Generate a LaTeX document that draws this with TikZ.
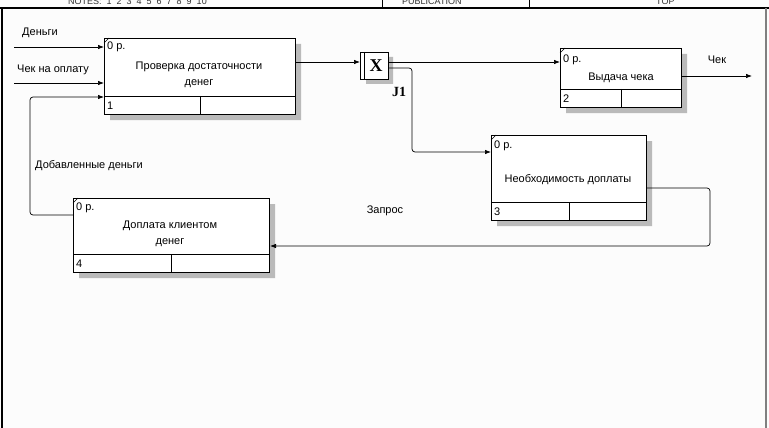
\documentclass[tikz,border=0pt]{standalone}
\usepackage{fontspec}
\setmainfont{Liberation Sans}
\newfontfamily\jfont{Liberation Serif}
\usetikzlibrary{arrows.meta,calc,patterns}
\tikzset{flow/.style={-{Latex[length=6pt,width=4.5pt]},line width=.7pt,rounded corners=3pt},
         act/.style={draw,fill=white,line width=1pt,anchor=north west,inner sep=0pt},
         shade/.style={fill=black!27},
         lbl/.style={font=\fontsize{11}{16}\selectfont,inner sep=0pt},
         hdr/.style={font=\fontsize{9}{10}\selectfont,inner sep=0pt,anchor=base west,black!80}}
\newcommand{\actshadow}[1]{%
  \fill[shade] ($(#1.north east)+(0,6)$) -- ++(5,0) |- ($(#1.south west)+(6,5)$)
    -- ++(0,-5) -| cycle;}
\newcommand{\actcells}[2]{%
  \draw[line width=.7pt] ($(#1.south west)+(0,-19)$) -- ($(#1.south east)+(0,-19)$);
  \draw[line width=.7pt] ($(#1.south)+(0,-19)$) -- (#1.south);
  \draw[line width=.5pt] ($(#1.north west)+(0,5)$) -- ($(#1.north west)+(5,0)$);
  \node[lbl,anchor=west] at ($(#1.south west)+(3,-9)$) {#2};}
\begin{document}
\begin{tikzpicture}[x=1pt,y=-1pt]
  \useasboundingbox[fill={rgb,255:red,252;green,252;blue,252}] (0,0) rectangle (769,428);
  % frame and cut header
  \draw[line width=1.2pt] (0,8) -- (769,8);
  \draw[line width=1.5pt] (2,8) -- (2,428);
  \draw[line width=2pt,black!50] (766,8) -- (766,428);
  \draw[line width=.6pt] (382,0) -- (382,8);
  \draw[line width=.6pt] (529,0) -- (529,8);
  \node[hdr] (notes) at (68,5) {NOTES:\ \ 1\ \ 2\ \ 3\ \ 4\ \ 5\ \ 6\ \ 7\ \ 8\ \ 9\ \ 10};
  \node[hdr] (pub) at (402,5) {PUBLICATION};
  \node[hdr] (ctx) at (656,5) {TOP};
  % activities
  \coordinate (s1) at (104,38);
  \node[act,minimum width=191pt,minimum height=76pt] (b1) at (s1) {};
  \coordinate (s2) at (560,48);
  \node[act,minimum width=121pt,minimum height=59pt] (b2) at (s2) {};
  \coordinate (s3) at (491,135);
  \node[act,minimum width=155pt,minimum height=85pt] (b3) at (s3) {};
  \coordinate (s4) at (73,198);
  \node[act,minimum width=196pt,minimum height=74pt] (b4) at (s4) {};
  \actshadow{b1} \actshadow{b2} \actshadow{b3} \actshadow{b4}
  \node[act,minimum width=191pt,minimum height=76pt] at (s1) {};
  \node[act,minimum width=121pt,minimum height=59pt] at (s2) {};
  \node[act,minimum width=155pt,minimum height=85pt] at (s3) {};
  \node[act,minimum width=196pt,minimum height=74pt] at (s4) {};
  \actcells{b1}{1} \actcells{b2}{2} \actcells{b3}{3} \actcells{b4}{4}
  \node[lbl,anchor=west] (p1) at ($(b1.north west)+(3,9)$) {0 р.};
  \node[lbl,anchor=west] (p2) at ($(b2.north west)+(3,12)$) {0 р.};
  \node[lbl,anchor=west] (p3) at ($(b3.north west)+(3,11)$) {0 р.};
  \node[lbl,anchor=west] (p4) at ($(b4.north west)+(3,10)$) {0 р.};
  \node[lbl,align=center] (t1) at (199,75) {Проверка достаточности\\денег};
  \node[lbl] (t2) at (621,78) {Выдача чека};
  \node[lbl] (t3) at (568,180) {Необходимость доплаты};
  \node[lbl,align=center] (t4) at (170,234) {Доплата клиентом\\денег};
  % junction
  \fill[shade] (366,57) -- (393,57) -- (393,84) -- (366,84) -- (366,79) -- (388,79) -- cycle;
  \node[act,minimum width=28pt,minimum height=27pt] (j1) at (360,52) {};
  \draw[line width=.7pt] ($(j1.north west)+(4,0)$) -- ($(j1.south west)+(4,0)$);
  \node[font=\jfont\bfseries\fontsize{18}{18}\selectfont,inner sep=0pt] (jx) at (376,66) {X};
  \node[font=\jfont\bfseries\fontsize{14}{14}\selectfont,inner sep=0pt] (jl) at (399,92) {J1};
  % arrows
  \coordinate (in1) at (14,47);
  \coordinate (in2) at (14,83);
  \coordinate (out1) at (752,76);
  \draw[flow] (in1) -- (in1 -| b1.west);
  \draw[flow] (in2) -- (in2 -| b1.west);
  \draw[flow] ($(b4.north west)+(0,17)$) -| ($(b1.north west)+(-74,59)$)
    -- ($(b1.north west)+(0,59)$);
  \draw[flow] ($(b1.north east)+(0,24)$) -- ($(j1.north west)+(0,10)$);
  \draw[flow] ($(j1.north east)+(0,10)$) -- ($(b2.north west)+(0,14)$);
  \draw[flow] ($(j1.north east)+(0,16)$) -| ($(b3.north west)+(-79,17)$)
    -- ($(b3.north west)+(0,17)$);
  \draw[flow] ($(b2.north east)+(0,28)$) -- (out1);
  \draw[flow] ($(b3.north east)+(0,53)$) -| ($(b3.north east)+(63,111)$)
    -- ($(b4.north east)+(0,48)$);
  % labels
  \node[lbl,anchor=west] (l1) at (22,33) {Деньги};
  \node[lbl,anchor=west] (l2) at (17,70) {Чек на оплату};
  \node[lbl,anchor=west] (l3) at (35,166) {Добавленные деньги};
  \node[lbl] (l4) at (385,211) {Запрос};
  \node[lbl] (l5) at (717,60) {Чек};
\end{tikzpicture}
\end{document}
